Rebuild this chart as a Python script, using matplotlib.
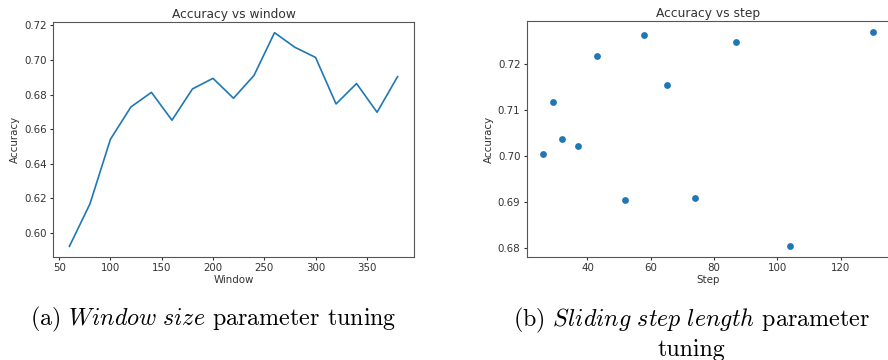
import matplotlib
matplotlib.use("Agg")
import matplotlib.pyplot as plt

# window size tuning
window = [60, 80, 100, 120, 140, 160, 180, 200, 220, 240, 260, 280, 300, 320, 340, 360, 380]
window_acc = [0.5923, 0.6168, 0.6542, 0.6729, 0.6813, 0.6652, 0.6833, 0.6894, 0.6779,
              0.6911, 0.7158, 0.7073, 0.7015, 0.6746, 0.6864, 0.6698, 0.6904]

# sliding step tuning
step = [26, 29, 32, 37, 43, 52, 58, 65, 74, 87, 104, 130]
step_acc = [0.7005, 0.7118, 0.7038, 0.7022, 0.7217, 0.6904, 0.7262, 0.7154,
            0.6908, 0.7248, 0.6804, 0.7270]

captions = [r"(a) $\mathit{Window\ size}$ parameter tuning",
            "(b) $\\mathit{Sliding\\ step\\ length}$ parameter\ntuning"]

plt.rcParams['mathtext.fontset'] = 'cm'
txt = '#333333'
plt.rcParams.update({
    'font.size': 7.4,
    'text.color': txt,
    'axes.labelcolor': txt,
    'xtick.color': txt,
    'ytick.color': txt,
    'axes.edgecolor': '#555555',
    'xtick.major.size': 2.5,
    'ytick.major.size': 2.5,
})

fig = plt.figure(figsize=(8.88, 3.6), dpi=100)

ax1 = fig.add_axes([0.0597, 0.2861, 0.4065, 0.6528])
ax1.plot(window, window_acc, color='#1f77b4', lw=1.2)
ax1.set_title('Accuracy vs window', fontsize=8.8, pad=3)
ax1.set_xlabel('Window', labelpad=1)
ax1.set_ylabel('Accuracy', labelpad=3)

ax2 = fig.add_axes([0.5931, 0.2861, 0.408, 0.6556])
ax2.scatter(step, step_acc, s=24, color='#1f77b4', linewidths=0)
ax2.set_title('Accuracy vs step', fontsize=8.8, pad=3)
ax2.set_xlabel('Step', labelpad=1)
ax2.set_ylabel('Accuracy', labelpad=3)
ax2.set_yticks([0.68, 0.69, 0.70, 0.71, 0.72])

for a in (ax1, ax2):
    a.tick_params(labelsize=7.4, pad=2)
    for s in a.spines.values():
        s.set_linewidth(0.8)

fig.text(0.24, 0.114, captions[0], ha='center', va='center', family='cmr10',
         fontsize=17.3, color='black')
fig.text(0.779, 0.073, captions[1], ha='center', va='center', family='cmr10',
         fontsize=17.3, color='black', multialignment='center', linespacing=1.25)

fig.savefig('out.png', dpi=100)
